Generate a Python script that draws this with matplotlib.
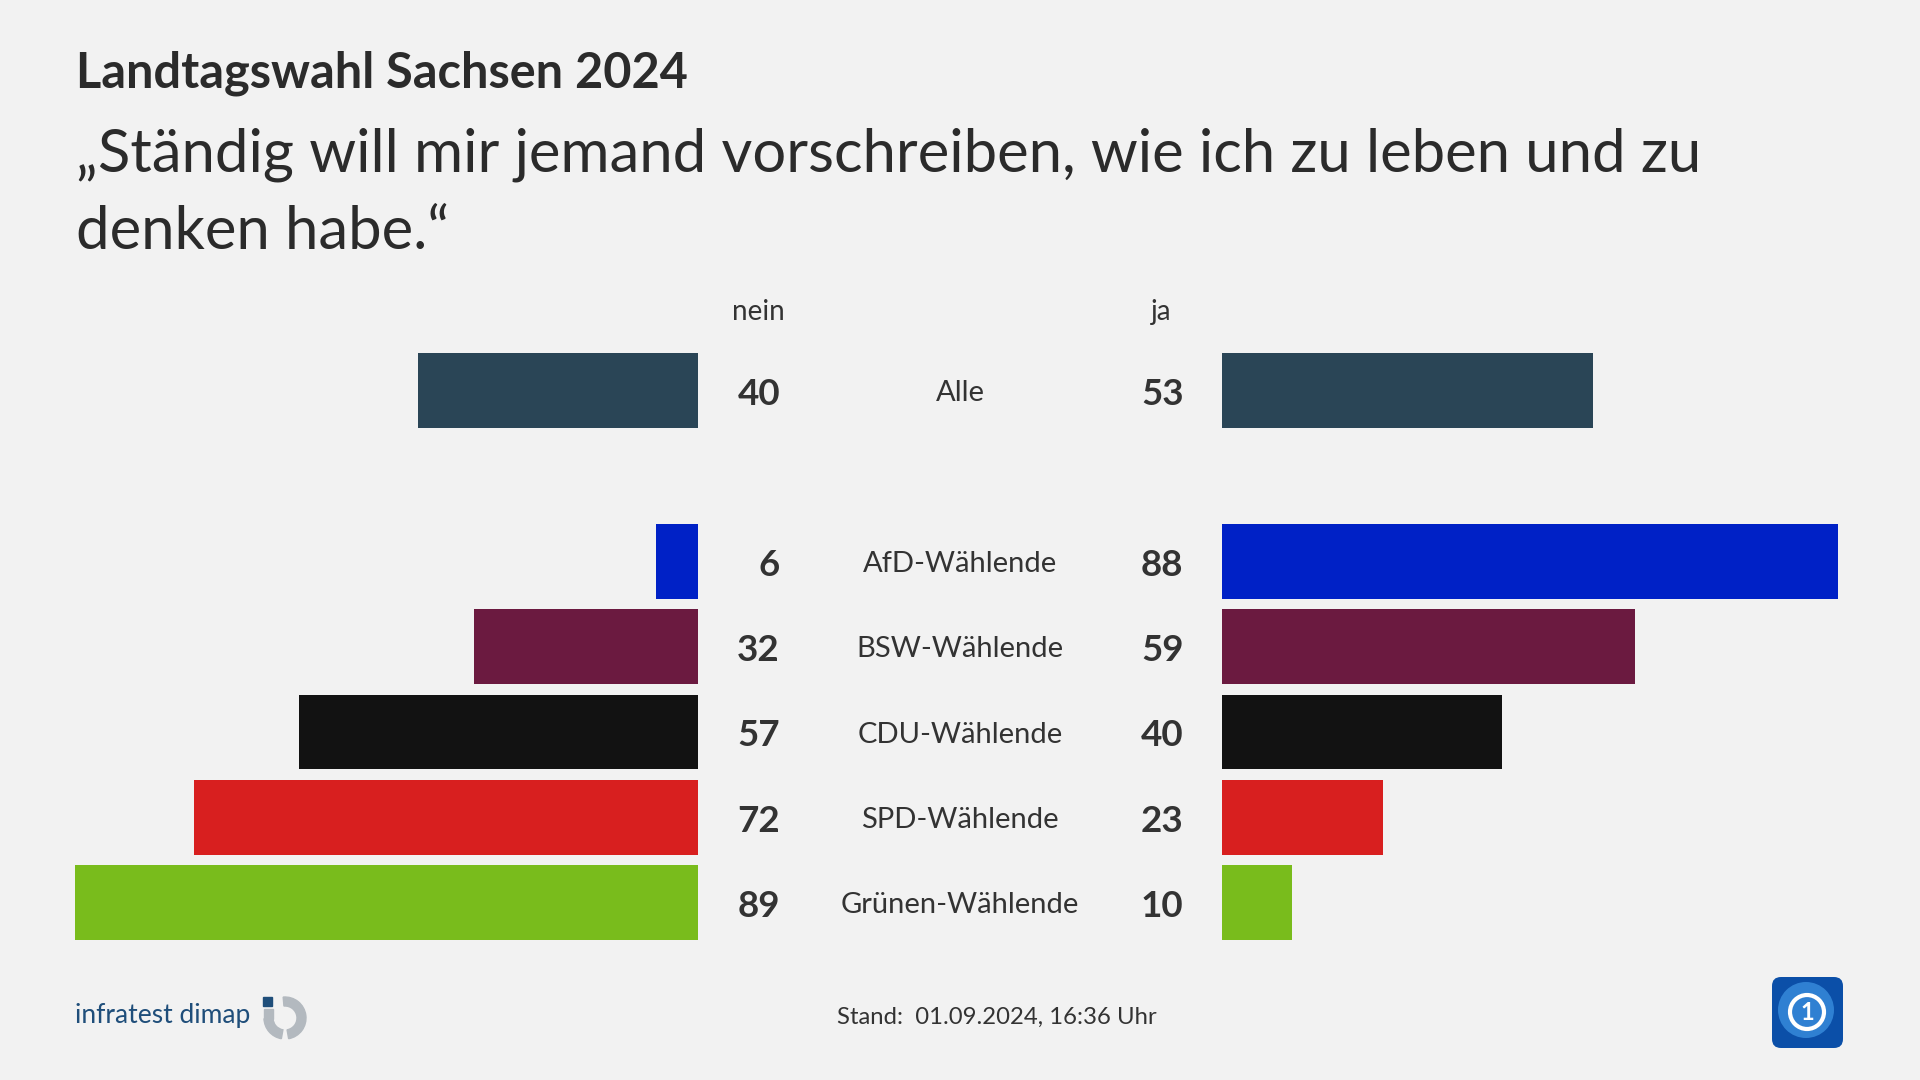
import matplotlib.pyplot as plt
import matplotlib.transforms as mtransforms
from matplotlib.patches import Rectangle, Wedge, FancyBboxPatch, Circle

plt.rcParams['font.family'] = ['Lato', 'DejaVu Sans']

# Daten
groups = ['Alle', 'AfD-Wählende', 'BSW-Wählende', 'CDU-Wählende', 'SPD-Wählende', 'Grünen-Wählende']
nein = [40, 6, 32, 57, 72, 89]
ja = [53, 88, 59, 40, 23, 10]
colors = ['#2a4556', '#0021c6', '#6b1a40', '#121212', '#d81f1f', '#79bc1c']
rows = [0, 2, 3, 4, 5, 6]  # Leerzeile nach "Alle"

title = 'Landtagswahl Sachsen 2024'
subtitle = ['„Ständig will mir jemand vorschreiben, wie ich zu leben und zu', 'denken habe.“']
stand = 'Stand:  01.09.2024, 16:36 Uhr'

BG = '#f2f2f2'
TXT = '#333333'
W, H = 1920, 1080


def fx(px):
    return px / W


def fy(py):
    return 1 - py / H


fig = plt.figure(figsize=(19.2, 10.8), dpi=100, facecolor=BG)

# Balken: 7 px pro Prozentpunkt
unit = 7.0
span = 99
top_px, bot_px = 347.75, 945.4
ax_l = fig.add_axes([fx(698 - unit * span), fy(bot_px), fx(unit * span), (bot_px - top_px) / H])
ax_r = fig.add_axes([fx(1222), fy(bot_px), fx(unit * span), (bot_px - top_px) / H])
for ax in (ax_l, ax_r):
    ax.set_ylim(6.5, -0.5)
    ax.axis('off')
ax_l.set_xlim(span, 0)
ax_r.set_xlim(0, span)
ax_l.barh(rows, nein, height=0.875, color=colors)
ax_r.barh(rows, ja, height=0.875, color=colors)

trans = mtransforms.blended_transform_factory(fig.transFigure, ax_l.transData)
dy = 0.045  # Text etwas tiefer, optisch mittig
for r, g, n, j in zip(rows, groups, nein, ja):
    ax_l.text(fx(780), r + dy, str(n), transform=trans, ha='right', va='center',
              fontsize=26.5, fontweight='bold', color=TXT)
    ax_l.text(fx(1141), r + dy, str(j), transform=trans, ha='left', va='center',
              fontsize=26.5, fontweight='bold', color=TXT)
    ax_l.text(0.5, r + 0.03, g, transform=trans, ha='center', va='center',
              fontsize=21, color=TXT)

fig.text(fx(758), fy(312), 'nein', ha='center', va='center', fontsize=20, color=TXT)
fig.text(fx(1161), fy(312), 'ja', ha='center', va='center', fontsize=20, color=TXT)

# Titel
fig.text(fx(76), fy(88), title, ha='left', va='baseline', fontsize=35,
         fontweight='bold', color='#2b2b2b')
fig.text(fx(76), fy(171), subtitle[0], ha='left', va='baseline', fontsize=43, color='#2b2b2b')
fig.text(fx(76), fy(249), subtitle[1], ha='left', va='baseline', fontsize=43, color='#2b2b2b')

# Fusszeile
ov = fig.add_axes([0, 0, 1, 1], zorder=5)
ov.set_xlim(0, W)
ov.set_ylim(H, 0)
ov.axis('off')
ov.patch.set_alpha(0)

ov.text(997, 1017, stand, ha='center', va='center', fontsize=17.2, color=TXT)

# infratest dimap
ov.text(75, 1015, 'infratest dimap', ha='left', va='center', fontsize=19, color='#1f4e7a')
ov.add_patch(Rectangle((263, 997), 9, 9, color='#1f4e7a'))
ov.add_patch(Wedge((285, 1018), 21, -95, 80, width=9, color='#b3b9bf'))
ov.add_patch(Wedge((285, 1018), 21, 100, 178, width=9, color='#b3b9bf'))
ov.add_patch(Rectangle((264, 1009), 9, 10, color='#b3b9bf'))

# ARD-Logo
ov.add_patch(FancyBboxPatch((1772, 977), 71, 71, boxstyle='round,pad=0,rounding_size=9',
                            facecolor='#0b4fa8', edgecolor='none'))
ov.add_patch(Circle((1806, 1010), 28, facecolor='#2f80d2', edgecolor='none'))
ov.add_patch(Circle((1807, 1012), 17, facecolor='none', edgecolor='white', linewidth=3))
ov.text(1807, 1013, '1', ha='center', va='center', fontsize=17, fontweight='bold', color='white')

fig.savefig('out.png', dpi=100, facecolor=BG)
